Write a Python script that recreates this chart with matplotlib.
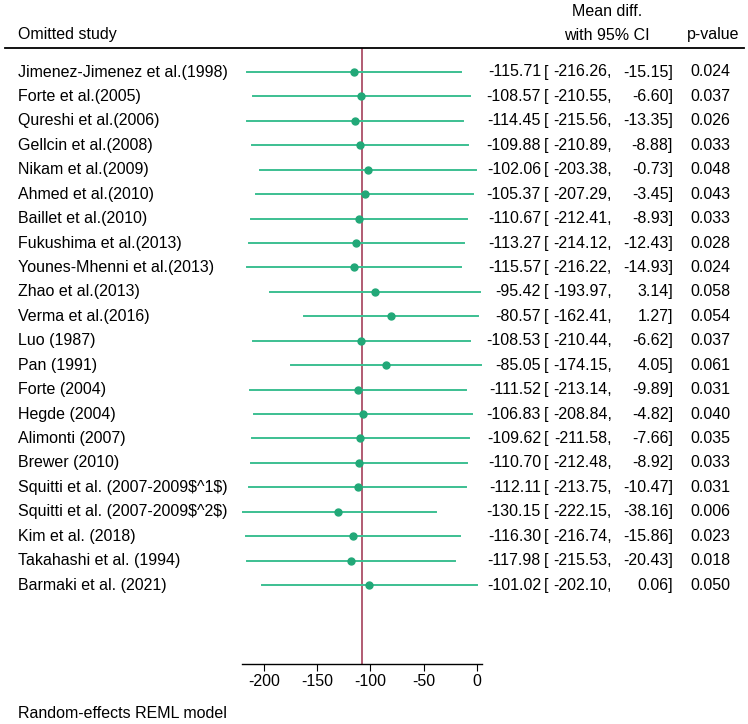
import matplotlib.pyplot as plt
import matplotlib.transforms as mtransforms

plt.rcParams['font.family'] = ['Liberation Sans', 'DejaVu Sans']

# study labels
studies = [
    "Jimenez-Jimenez et al.(1998)", "Forte et al.(2005)", "Qureshi et al.(2006)",
    "Gellcin et al.(2008)", "Nikam et al.(2009)", "Ahmed et al.(2010)",
    "Baillet et al.(2010)", "Fukushima et al.(2013)", "Younes-Mhenni et al.(2013)",
    "Zhao et al.(2013)", "Verma et al.(2016)", "Luo (1987)", "Pan (1991)",
    "Forte (2004)", "Hegde (2004)", "Alimonti (2007)", "Brewer (2010)",
    "Squitti et al. (2007-2009$^1$)", "Squitti et al. (2007-2009$^2$)",
    "Kim et al. (2018)", "Takahashi et al. (1994)", "Barmaki et al. (2021)",
]
# mean difference and 95% CI when each study is omitted
est = [-115.71, -108.57, -114.45, -109.88, -102.06, -105.37, -110.67, -113.27,
       -115.57, -95.42, -80.57, -108.53, -85.05, -111.52, -106.83, -109.62,
       -110.70, -112.11, -130.15, -116.30, -117.98, -101.02]
lo = [-216.26, -210.55, -215.56, -210.89, -203.38, -207.29, -212.41, -214.12,
      -216.22, -193.97, -162.41, -210.44, -174.15, -213.14, -208.84, -211.58,
      -212.48, -213.75, -222.15, -216.74, -215.53, -202.10]
hi = [-15.15, -6.60, -13.35, -8.88, -0.73, -3.45, -8.93, -12.43, -14.93, 3.14,
      1.27, -6.62, 4.05, -9.89, -4.82, -7.66, -8.92, -10.47, -38.16, -15.86,
      -20.43, 0.06]
pval = [0.024, 0.037, 0.026, 0.033, 0.048, 0.043, 0.033, 0.028, 0.024, 0.058,
        0.054, 0.037, 0.061, 0.031, 0.040, 0.035, 0.033, 0.031, 0.006, 0.023,
        0.018, 0.050]
overall = -108.0
ticks = [-200, -150, -100, -50, 0]

W, H = 748, 724
fig = plt.figure(figsize=(W / 100, H / 100), dpi=100)

# plot area in pixels: x 242..482, y (from top) 48..664
ax = fig.add_axes([242 / W, (H - 664) / H, (482 - 242) / W, (664 - 48) / H])
n = len(studies)
row0, step = 72, 24.43
ax.set_ylim((664 - row0) / step, (48 - row0) / step)
ax.set_xlim(-220.5, 4.7)

green = '#3cbf92'
dot = '#22a878'
ax.axvline(overall, color='#9c2f4c', lw=1.1, zorder=1)
for i in range(n):
    ax.plot([lo[i], hi[i]], [i, i], color=green, lw=1.4, zorder=2)
    ax.plot(est[i], i, 'o', color=dot, ms=5, zorder=3)

for s in ['top', 'right', 'left']:
    ax.spines[s].set_visible(False)
ax.spines['bottom'].set_linewidth(1.0)
ax.set_yticks([])
ax.set_xticks(ticks)
ax.set_xticklabels([str(t) for t in ticks])
ax.tick_params(axis='x', labelsize=11.5, length=5, pad=2)

# text columns placed in figure-pixel x and data y
trans = mtransforms.blended_transform_factory(
    mtransforms.Affine2D().scale(1 / W, 1) + fig.transFigure, ax.transData)
fs = 11.5
for i in range(n):
    kw = dict(transform=trans, va='center', fontsize=fs, clip_on=False, parse_math=False)
    fig.text(18, i, studies[i], ha='left', **kw)
    fig.text(541, i, f"{est[i]:.2f}", ha='right', **kw)
    fig.text(544, i, "[", ha='left', **kw)
    fig.text(612, i, f"{lo[i]:.2f},", ha='right', **kw)
    fig.text(673, i, f"{hi[i]:.2f}]", ha='right', **kw)
    fig.text(690, i, f"{pval[i]:.3f}", ha='left', **kw)

# header
def fy(y):
    return 1 - y / H

fig.text(18 / W, fy(35), "Omitted study", ha='left', va='center', fontsize=fs)
fig.text(607 / W, fy(12), "Mean diff.", ha='center', va='center', fontsize=fs)
fig.text(607 / W, fy(35), "with 95% CI", ha='center', va='center', fontsize=fs)
fig.text(713 / W, fy(35), "p-value", ha='center', va='center', fontsize=fs)
fig.add_artist(plt.Line2D([5 / W, 744 / W], [fy(48), fy(48)], color='black', lw=1.3,
                          transform=fig.transFigure))
fig.text(18 / W, fy(714), "Random-effects REML model", ha='left', va='center', fontsize=fs)

fig.savefig('out.png', dpi=100)
